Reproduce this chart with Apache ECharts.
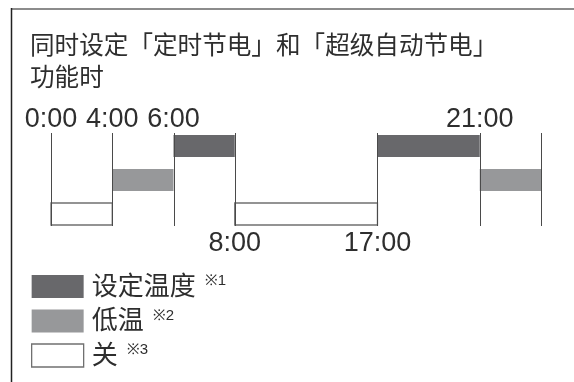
<!DOCTYPE html>
<html><head><meta charset="utf-8">
<script src="https://cdn.jsdelivr.net/npm/echarts@6/dist/echarts.min.js"></script>
<style>html,body{margin:0;padding:0;background:#fff}#c{width:574px;height:382px}</style>
</head><body><div id="c"></div>
<script>
// ---- data ----
const titleLines = ['同时设定「定时节电」和「超级自动节电」', '功能时'];
const timeLabels = ['0:00', '4:00', '6:00', '8:00', '17:00', '21:00', '24:00'];
// schematic (non-proportional) slot of each time mark along the timeline
const timeSlots = [0, 1, 2, 3, 5.33, 7, 8];
const labelSide = ['top', 'top', 'top', 'bottom', 'bottom', 'top', 'none'];
const modeNames = ['设定温度', '低温', '关'];
const modeNotes = ['※1', '※2', '※3'];
const modeLevel = [2, 1, 0];
const segStart = ['0:00', '4:00', '6:00', '8:00', '17:00', '21:00'];
const segEnd = ['4:00', '6:00', '8:00', '17:00', '21:00', '24:00'];
const segMode = ['关', '低温', '设定温度', '关', '设定温度', '低温'];

// ---- styles ----
const modeStyle = {
  '设定温度': { fill: '#68686b', stroke: null, lineWidth: 0 },
  '低温': { fill: '#97989a', stroke: null, lineWidth: 0 },
  '关': { fill: '#ffffff', stroke: '#707070', lineWidth: 1.3 }
};
const CJK = '"Noto Sans CJK SC", "Noto Sans", sans-serif';
const LAT = '"Liberation Sans", Arial, sans-serif';
const TXT = '#2e2e2e';

const slotOf = t => timeSlots[timeLabels.indexOf(t)];

const segSeries = modeNames.map((m, mi) => ({
  type: 'custom',
  name: m,
  coordinateSystem: 'cartesian2d',
  itemStyle: { color: modeStyle[m].fill, borderColor: modeStyle[m].stroke || modeStyle[m].fill },
  data: segMode.map((sm, i) => sm === m ? [slotOf(segStart[i]), slotOf(segEnd[i]), modeLevel[mi]] : null).filter(d => d),
  renderItem: function (params, api) {
    const s = api.coord([api.value(0), api.value(2)]);
    const e = api.coord([api.value(1), api.value(2)]);
    const st = modeStyle[m];
    return {
      type: 'rect',
      shape: { x: s[0], y: s[1] - 11, width: e[0] - s[0], height: 22 },
      style: { fill: st.fill, stroke: st.stroke, lineWidth: st.lineWidth }
    };
  }
}));

const markSeries = {
  type: 'custom',
  name: 'marks',
  coordinateSystem: 'cartesian2d',
  silent: true,
  z: 3,
  data: timeSlots.map((p, i) => [p, i]),
  renderItem: function (params, api) {
    const i = api.value(1);
    const x = api.coord([api.value(0), 0])[0];
    const top = params.coordSys.y;
    const bot = params.coordSys.y + params.coordSys.height;
    const children = [{
      type: 'line',
      shape: { x1: Math.round(x) + 0.5, y1: top, x2: Math.round(x) + 0.5, y2: bot },
      style: { stroke: '#4a4a4a', lineWidth: 1 }
    }];
    const side = labelSide[i];
    if (side !== 'none') {
      children.push({
        type: 'text',
        style: {
          text: timeLabels[i], x: x, y: side === 'top' ? top - 13.5 : bot + 17.5,
          align: 'center', verticalAlign: 'middle',
          font: '27px ' + LAT, fill: TXT
        }
      });
    }
    return { type: 'group', children: children };
  }
};

const chart = echarts.init(document.getElementById('c'), null, { renderer: 'canvas' });
chart.setOption({
  animation: false,
  backgroundColor: '#fff',
  title: {
    text: titleLines.join('\n'),
    left: 30, top: 29, padding: 0,
    textStyle: { fontFamily: CJK, fontSize: 24.6, fontWeight: 'normal', color: TXT, lineHeight: 32 }
  },
  grid: { left: 51, right: 33, top: 133, bottom: 156 },
  xAxis: { type: 'value', min: 0, max: 8, show: false },
  yAxis: { type: 'value', min: -0.353, max: 2.382, show: false },
  legend: {
    orient: 'vertical', left: 31, top: 272, padding: 0,
    itemWidth: 52, itemHeight: 23, itemGap: 5.5,
    selectedMode: false,
    data: modeNames.map(m => ({
      name: m, icon: 'rect',
      itemStyle: { color: modeStyle[m].fill, borderColor: modeStyle[m].stroke || modeStyle[m].fill, borderWidth: modeStyle[m].stroke ? 1.3 : 0 }
    })),
    formatter: name => '{n|' + name + '}{s|' + modeNotes[modeNames.indexOf(name)] + '}',
    textStyle: {
      fontFamily: CJK, fontSize: 26, color: TXT, lineHeight: 26,
      rich: {
        n: { fontFamily: CJK, fontSize: 26, lineHeight: 26, color: TXT, padding: [0, 0, 3, 3] },
        s: { fontFamily: LAT, fontSize: 15, lineHeight: 15, color: TXT, verticalAlign: 'top', padding: [0, 0, 0, 9] }
      }
    }
  },
  graphic: [
    { type: 'line', shape: { x1: 11, y1: 9, x2: 574, y2: 9 }, style: { stroke: '#8c8c8c', lineWidth: 2 } },
    { type: 'line', shape: { x1: 11.5, y1: 8, x2: 11.5, y2: 382 }, style: { stroke: '#222', lineWidth: 1.5 } }
  ],
  series: segSeries.concat([markSeries])
});
</script></body></html>
